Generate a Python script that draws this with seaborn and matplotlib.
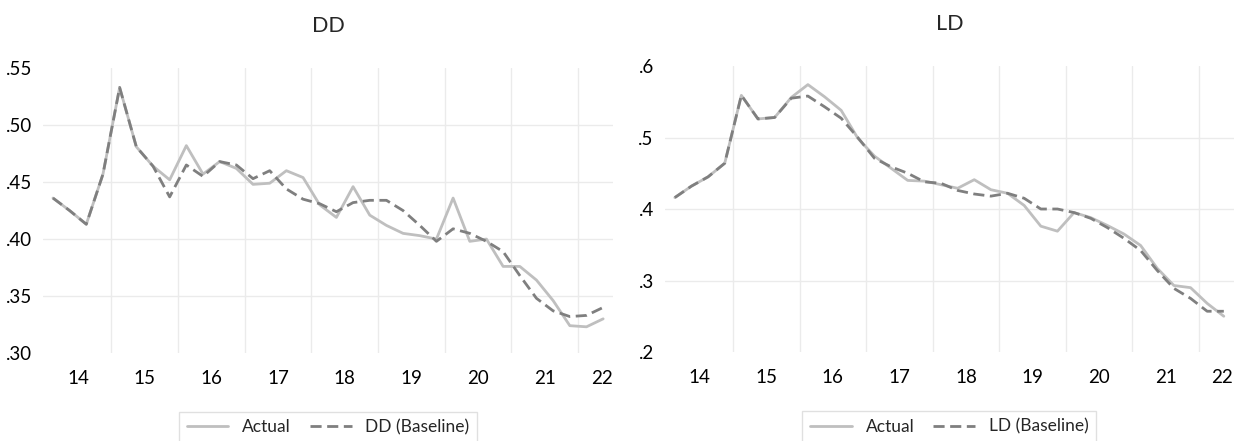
import numpy as np
import pandas as pd
import matplotlib
matplotlib.use("Agg")
import matplotlib.pyplot as plt
import seaborn as sns

# ---------------- data ----------------
periods = pd.period_range("2014Q1", "2022Q2", freq="Q")
year_labels = ["14", "15", "16", "17", "18", "19", "20", "21", "22"]

dd_actual = [0.436, 0.425, 0.413, 0.457,
             0.533, 0.481, 0.464, 0.452,
             0.482, 0.457, 0.468, 0.462,
             0.448, 0.449, 0.460, 0.454,
             0.430, 0.419, 0.446, 0.421,
             0.412, 0.405, 0.403, 0.400,
             0.436, 0.398, 0.400, 0.376,
             0.376, 0.364, 0.346, 0.324,
             0.323, 0.330]
dd_baseline = [0.436, 0.425, 0.413, 0.457,
               0.533, 0.481, 0.464, 0.437,
               0.465, 0.455, 0.468, 0.465,
               0.453, 0.460, 0.444, 0.435,
               0.431, 0.424, 0.432, 0.434,
               0.434, 0.425, 0.412, 0.398,
               0.409, 0.405, 0.398, 0.389,
               0.368, 0.348, 0.337, 0.332,
               0.333, 0.340]
ld_actual = [0.416, 0.432, 0.445, 0.464,
             0.559, 0.526, 0.528, 0.556,
             0.574, 0.557, 0.538, 0.499,
             0.474, 0.457, 0.440, 0.439,
             0.434, 0.429, 0.441, 0.427,
             0.422, 0.405, 0.376, 0.369,
             0.395, 0.388, 0.377, 0.365,
             0.349, 0.317, 0.293, 0.290,
             0.268, 0.250]
ld_baseline = [0.416, 0.432, 0.445, 0.464,
               0.559, 0.526, 0.528, 0.555,
               0.558, 0.543, 0.527, 0.500,
               0.471, 0.459, 0.450, 0.438,
               0.436, 0.426, 0.421, 0.418,
               0.422, 0.415, 0.400, 0.400,
               0.395, 0.387, 0.374, 0.359,
               0.342, 0.314, 0.289, 0.275,
               0.257, 0.257]

# ---------------- style ----------------
sns.set_theme(style="white")
plt.rcParams["font.family"] = ["Lato", "DejaVu Sans"]

x = np.array([(p.year - 2000) + (p.quarter - 0.5) / 4 for p in periods])

C_ACT = "#BFBFBF"
C_BASE = "#7F7F7F"
GRID = "#EBEBEB"

fig = plt.figure(figsize=(12.45, 4.41), dpi=100)
ax1 = fig.add_axes([0.0345, 0.1995, 0.458, 0.646])
ax2 = fig.add_axes([0.534, 0.2018, 0.457, 0.6485])

panels = [
    (ax1, "DD", dd_actual, dd_baseline, "DD (Baseline)", (0.30, 0.55), 0.05, 2),
    (ax2, "LD", ld_actual, ld_baseline, "LD (Baseline)", (0.2, 0.6), 0.1, 1),
]

for ax, title, act, base, blabel, ylim, ystep, dec in panels:
    df = pd.DataFrame({"x": x, "Actual": act, blabel: base})
    sns.lineplot(data=df, x="x", y="Actual", ax=ax, color=C_ACT, lw=2.0,
                 label="Actual")
    sns.lineplot(data=df, x="x", y=blabel, ax=ax, color=C_BASE, lw=2.0,
                 label=blabel, dashes=False)
    ax.lines[-1].set_dashes((4, 2))

    xmin, xmax = x[0] - 0.15, x[-1] + 0.15
    ax.set_xlim(xmin, xmax)
    ax.set_ylim(*ylim)

    # vertical gridlines at year boundaries
    bounds = np.arange(15, 23)
    for b in bounds:
        ax.axvline(b, color=GRID, lw=1.0, zorder=0)
    # horizontal gridlines at interior ticks
    yt = np.round(np.arange(ylim[0], ylim[1] + ystep / 2, ystep), 3)
    for v in yt[1:-1]:
        ax.axhline(v, color=GRID, lw=1.0, zorder=0)
    ax.set_yticks(yt)
    ax.set_yticklabels([f"{v:.{dec}f}".lstrip("0") for v in yt], fontsize=13.5)

    # year labels centred in each year
    lab_pos = [min(int(y) + 0.5, xmax - 0.17) for y in year_labels]
    ax.set_xticks(lab_pos)
    ax.set_xticklabels(year_labels, fontsize=13.5)

    ax.tick_params(axis="both", length=0, colors="#000000")
    ax.tick_params(axis="y", pad=8)
    ax.tick_params(axis="x", pad=12)
    for s in ax.spines.values():
        s.set_visible(False)
    ax.set_xlabel("")
    ax.set_ylabel("")
    ax.set_title(title, fontsize=15.5, pad=26)

    leg = ax.legend(loc="upper center", bbox_to_anchor=(0.5, -0.175), ncol=2,
                    fontsize=12.5, frameon=True, fancybox=False,
                    handlelength=2.4, handletextpad=0.8, columnspacing=1.1,
                    borderpad=0.45)
    leg.get_frame().set_edgecolor("#D9D9D9")
    leg.get_frame().set_linewidth(1.0)

fig.savefig("out.png", dpi=100)
